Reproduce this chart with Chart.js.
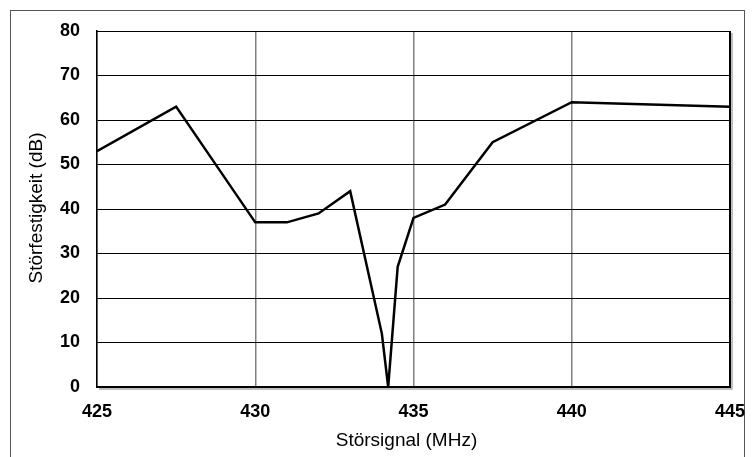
<!DOCTYPE html>
<html><head><meta charset="utf-8">
<script src="https://cdn.jsdelivr.net/npm/chart.js@4"></script>
<style>html,body{margin:0;padding:0;background:#fff;}#wrap{width:755px;height:457px;}</style>
</head><body><div id="wrap"><canvas id="c" width="755" height="457"></canvas></div>
<script>
const frequencies = [425, 427.5, 430, 431, 432, 433, 434, 434.2, 434.5, 435, 436, 437.5, 440, 445];
const immunity    = [53, 63, 37, 37, 39, 44, 12, 0, 27, 38, 41, 55, 64, 63];
const xTicks = [425, 430, 435, 440, 445];
const yTicks = [0, 10, 20, 30, 40, 50, 60, 70, 80];
const xTitle = 'Störsignal (MHz)';
const yTitle = 'Störfestigkeit (dB)';
const FONT = 'Liberation Sans, Arial, sans-serif';

const frame = {
  id: 'frame',
  beforeDraw(chart) {
    const ctx = chart.ctx;
    ctx.save();
    ctx.fillStyle = '#fff';
    ctx.fillRect(0, 0, chart.width, chart.height);
    ctx.strokeStyle = '#555';
    ctx.lineWidth = 1;
    ctx.strokeRect(10.5, 10.5, 734, 460);
    ctx.restore();
  },
  afterDraw(chart) {
    const a = chart.chartArea, ctx = chart.ctx;
    ctx.save();
    ctx.strokeStyle = '#000';
    ctx.lineWidth = 1;
    ctx.beginPath(); ctx.moveTo(a.left, a.top + 0.5); ctx.lineTo(a.right, a.top + 0.5); ctx.stroke();
    ctx.lineWidth = 2;
    ctx.beginPath(); ctx.moveTo(a.right, a.top); ctx.lineTo(a.right, a.bottom + 1); ctx.stroke();
    ctx.strokeStyle = '#aaa';
    ctx.lineWidth = 1.5;
    ctx.beginPath(); ctx.moveTo(a.left + 2, a.bottom + 2); ctx.lineTo(a.right + 2, a.bottom + 2); ctx.lineTo(a.right + 2, a.top + 2); ctx.stroke();
    // axis titles
    ctx.fillStyle = '#000';
    ctx.font = '19px ' + FONT;
    ctx.textAlign = 'center';
    ctx.textBaseline = 'middle';
    ctx.fillText(xTitle, (a.left + a.right) / 2 - 7, a.bottom + 54);
    ctx.translate(a.left - 60, (a.top + a.bottom) / 2 - 1);
    ctx.rotate(-Math.PI / 2);
    ctx.fillText(yTitle, 0, 0);
    ctx.restore();
  }
};

new Chart(document.getElementById('c'), {
  type: 'line',
  data: {
    datasets: [{
      data: frequencies.map((f, i) => ({x: f, y: immunity[i]})),
      borderColor: '#000',
      borderWidth: 2.5,
      pointRadius: 0,
      tension: 0,
      fill: false
    }]
  },
  options: {
    responsive: false,
    animation: false,
    devicePixelRatio: 1,
    layout: {padding: {left: 0, top: 31, right: 25, bottom: 0}},
    plugins: {legend: {display: false}, tooltip: {enabled: false}},
    scales: {
      x: {
        type: 'linear', min: 425, max: 445,
        afterBuildTicks(s) { s.ticks = xTicks.map(v => ({value: v})); },
        afterFit(s) { s.height = 70; s.paddingLeft = 0; s.paddingRight = 0; },
        grid: {color: '#808080', lineWidth: 1.5, drawTicks: false},
        border: {color: '#000', width: 2},
        ticks: {font: {family: FONT, size: 18, weight: 'bold'}, color: '#000', padding: 14, maxRotation: 0},
        title: {display: false}
      },
      y: {
        min: 0, max: 80,
        afterBuildTicks(s) { s.ticks = yTicks.map(v => ({value: v})); },
        afterFit(s) { s.width = 97; s.paddingTop = 0; s.paddingBottom = 0; },
        grid: {color: '#000', lineWidth: 1, drawTicks: false},
        border: {color: '#000', width: 1.5},
        ticks: {font: {family: FONT, size: 18, weight: 'bold'}, color: '#000', padding: 17},
        title: {display: false}
      }
    }
  },
  plugins: [frame]
});
</script></body></html>
